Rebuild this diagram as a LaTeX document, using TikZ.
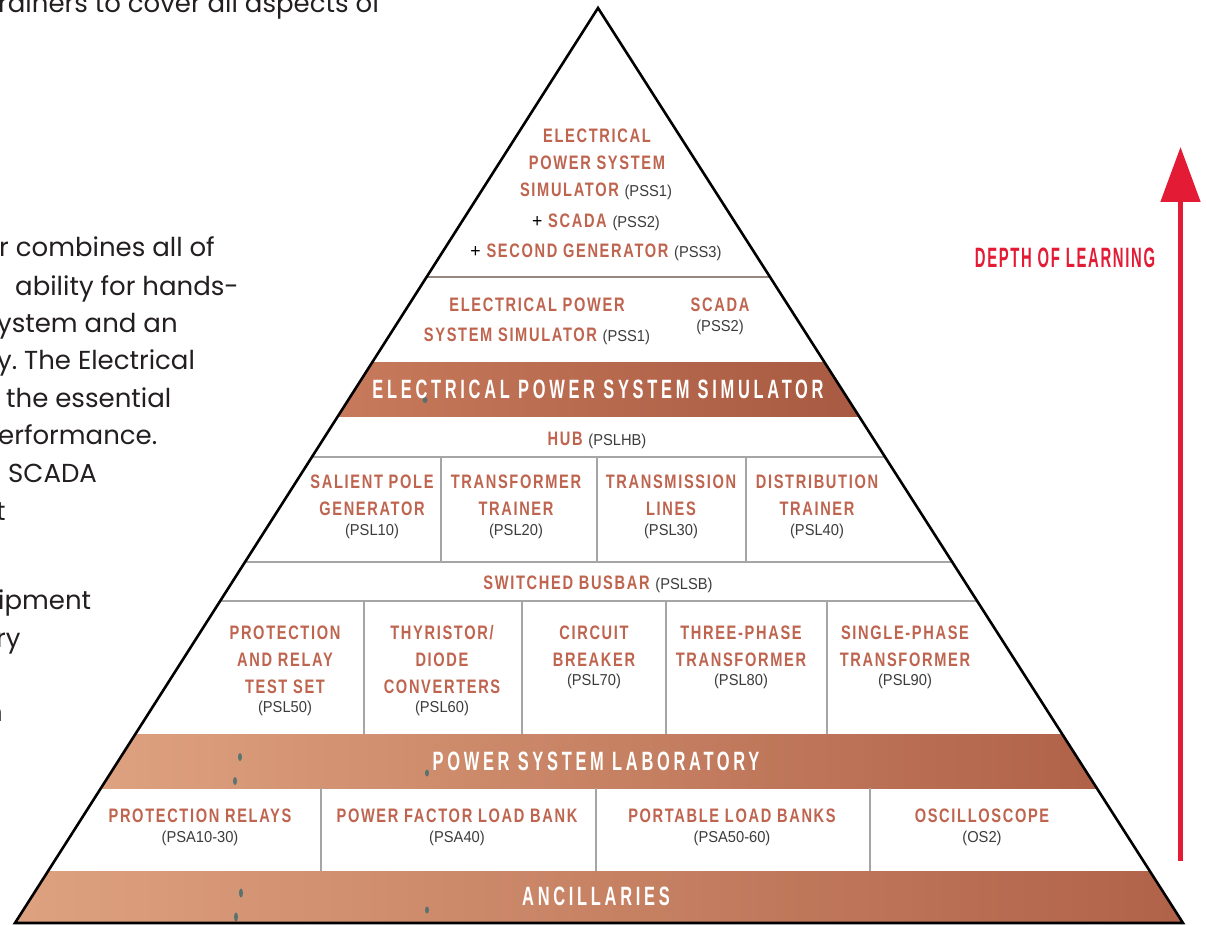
\documentclass[tikz,border=0pt]{standalone}
\usepackage{fontspec}
\setmainfont{Poppins}
\usetikzlibrary{arrows.meta}
\newfontfamily\condfont[FakeStretch=0.75,LetterSpace=8.5]{Liberation Sans}
\newfontfamily\bandfont[FakeStretch=0.62,LetterSpace=14]{Liberation Sans}
\newfontfamily\depthfont[FakeStretch=0.53,LetterSpace=6]{Liberation Sans}
\newfontfamily\codefont[FakeStretch=0.93]{Liberation Sans}
\definecolor{copper}{RGB}{190,100,79}
\definecolor{codegray}{RGB}{60,60,60}
\definecolor{arrowred}{RGB}{227,27,53}
\definecolor{sepgray}{RGB}{165,165,165}
\definecolor{topsep}{RGB}{150,135,130}
\definecolor{parablack}{RGB}{35,31,32}
\definecolor{speckcol}{RGB}{70,110,112}
\definecolor{bandAL}{RGB}{200,122,92}
\definecolor{bandAM}{RGB}{198,116,86}
\definecolor{bandAR}{RGB}{168,90,66}
\definecolor{bandBL}{RGB}{222,162,128}
\definecolor{bandBM}{RGB}{200,120,90}
\definecolor{bandBR}{RGB}{176,98,72}
\newcommand\codetxt[1]{{\codefont\mdseries\fontsize{15.8}{18}\selectfont\color{codegray}#1}}
\newcommand\plustxt{{\codefont\mdseries\fontsize{19}{20}\selectfont\color{black}+}}
\frenchspacing
\begin{document}
\begin{tikzpicture}[x=1pt,y=-1pt,
  ttl/.style={font=\condfont\bfseries\fontsize{19.5}{24}\selectfont, text=copper, inner sep=0, anchor=base},
  codeline/.style={font=\codefont\fontsize{15.8}{18}\selectfont, text=codegray, inner sep=0, anchor=base},
  bandtxt/.style={font=\bandfont\bfseries\fontsize{26.5}{30}\selectfont, text=white, inner sep=0, anchor=center},
  para/.style={font=\fontsize{26}{30}\selectfont, text=parablack, inner sep=0, anchor=base west},
  sepline/.style={draw=sepgray, line width=1.3pt},
  speck/.style={fill=speckcol, opacity=0.85}
]
\useasboundingbox (0,0) rectangle (1207,925);
\fill[white] (0,0) rectangle (1207,925);

% left paragraph fragments
\node[para] (p0) at (-2,12.5) {rainers to cover all aspects of};
\node[para] (p1) at (-1,257) {r combines all of};
\node[para] (p2) at (15,295) {ability for hands-};
\node[para] (p3) at (-3,332) {ystem and an};
\node[para] (p4) at (-3,369) {y. The Electrical};
\node[para] (p5) at (6,407) {the essential};
\node[para] (p6) at (-2,444) {erformance.};
\node[para] (p7) at (8,482) {SCADA};
\node[para] (p8) at (-4,520) {t};
\node[para] (p9) at (-2,609) {ipment};
\node[para] (p10) at (-4,647) {ry};
\node[para,anchor=base east] (p11) at (3,721) {n};

% pyramid
\coordinate (apex) at (598,8);
\coordinate (bl) at (15,923);
\coordinate (br) at (1183,923);
\begin{scope}
\clip (apex) -- (bl) -- (br) -- cycle;
\shade[left color=bandAL, middle color=bandAM, right color=bandAR] (337,362) rectangle (859,416);
\shade[left color=bandBL, middle color=bandBM, right color=bandBR] (95,734) rectangle (1100,788);
\shade[left color=bandBL, middle color=bandBM, right color=bandBR] (10,871) rectangle (1190,925);
\fill[speck] (425,400) ellipse (2.5 and 3);
\fill[speck] (240,757) ellipse (2 and 4);
\fill[speck] (235,781) ellipse (2 and 4);
\fill[speck] (427,773) ellipse (2 and 3.5);
\fill[speck] (241,893) ellipse (2 and 4.5);
\fill[speck] (236,917) ellipse (2 and 4.5);
\fill[speck] (427,910) ellipse (2 and 3.5);
\draw[draw=topsep, line width=1.6pt] (0,277) -- (1207,277);
\draw[sepline] (0,457) -- (1207,457);
\draw[sepline] (0,562) -- (1207,562);
\draw[sepline] (0,601) -- (1207,601);
\end{scope}
% vertical dividers
\draw[sepline] (441,457) -- (441,562);
\draw[sepline] (597,457) -- (597,562);
\draw[sepline] (746,457) -- (746,562);
\draw[sepline] (364,601) -- (364,734);
\draw[sepline] (522,601) -- (522,734);
\draw[sepline] (666,601) -- (666,734);
\draw[sepline] (827,601) -- (827,734);
\draw[sepline] (321,788) -- (321,871);
\draw[sepline] (596,788) -- (596,871);
\draw[sepline] (870,788) -- (870,871);
\draw[black, line width=2.6pt, line join=miter] (apex) -- (bl) -- (br) -- cycle;

% top section
\node[ttl] (t1) at (597,143) {ELECTRICAL};
\node[ttl] (t2) at (597,170) {POWER SYSTEM};
\node[ttl] (t3) at (596,197) {SIMULATOR \codetxt{(PSS1)}};
\node[ttl] (t4) at (596,228) {\plustxt{} SCADA \codetxt{(PSS2)}};
\node[ttl] (t5) at (596,258) {\plustxt{} SECOND GENERATOR \codetxt{(PSS3)}};

% row 2
\node[ttl] (r2a) at (537,311) {ELECTRICAL POWER};
\node[ttl] (r2b) at (537,341) {SYSTEM SIMULATOR \codetxt{(PSS1)}};
\node[ttl] (r2c) at (720,311) {SCADA};
\node[codeline] (r2d) at (720,331) {(PSS2)};

\node[bandtxt] (eps) at (598,389) {ELECTRICAL POWER SYSTEM SIMULATOR};

\node[ttl] (hub) at (597,445) {HUB \codetxt{(PSLHB)}};

% row of four
\node[ttl] (sp1) at (372,488) {SALIENT POLE};
\node[ttl] (sp2) at (372,515) {GENERATOR};
\node[codeline] (sp3) at (372,535) {(PSL10)};
\node[ttl] (tt1) at (516,488) {TRANSFORMER};
\node[ttl] (tt2) at (516,515) {TRAINER};
\node[codeline] (tt3) at (516,535) {(PSL20)};
\node[ttl] (tl1) at (671,488) {TRANSMISSION};
\node[ttl] (tl2) at (671,515) {LINES};
\node[codeline] (tl3) at (671,535) {(PSL30)};
\node[ttl] (dt1) at (817,488) {DISTRIBUTION};
\node[ttl] (dt2) at (817,515) {TRAINER};
\node[codeline] (dt3) at (817,535) {(PSL40)};

\node[ttl] (sb) at (598,589) {SWITCHED BUSBAR \codetxt{(PSLSB)}};

% row of five
\node[ttl] (pr1) at (285,639) {PROTECTION};
\node[ttl] (pr2) at (285,666) {AND RELAY};
\node[ttl] (pr3) at (285,693) {TEST SET};
\node[codeline] (pr4) at (285,712) {(PSL50)};
\node[ttl] (th1) at (442,639) {THYRISTOR/};
\node[ttl] (th2) at (442,666) {DIODE};
\node[ttl] (th3) at (442,693) {CONVERTERS};
\node[codeline] (th4) at (442,712) {(PSL60)};
\node[ttl] (cb1) at (594,639) {CIRCUIT};
\node[ttl] (cb2) at (594,666) {BREAKER};
\node[codeline] (cb3) at (594,685) {(PSL70)};
\node[ttl] (tp1) at (741,639) {THREE-PHASE};
\node[ttl] (tp2) at (741,666) {TRANSFORMER};
\node[codeline] (tp3) at (741,685) {(PSL80)};
\node[ttl] (sg1) at (905,639) {SINGLE-PHASE};
\node[ttl] (sg2) at (905,666) {TRANSFORMER};
\node[codeline] (sg3) at (905,685) {(PSL90)};

\node[bandtxt] (psl) at (596,761) {POWER SYSTEM LABORATORY};

% ancillaries row
\node[ttl] (a1) at (200,822) {PROTECTION RELAYS};
\node[codeline] (a1c) at (200,842) {(PSA10-30)};
\node[ttl] (a2) at (457,822) {POWER FACTOR LOAD BANK};
\node[codeline] (a2c) at (457,842) {(PSA40)};
\node[ttl] (a3) at (732,822) {PORTABLE LOAD BANKS};
\node[codeline] (a3c) at (732,842) {(PSA50-60)};
\node[ttl] (a4) at (982,822) {OSCILLOSCOPE};
\node[codeline] (a4c) at (982,842) {(OS2)};

\node[bandtxt] (anc) at (596,896) {ANCILLARIES};

% depth of learning arrow
\node[font=\depthfont\bfseries\fontsize{28}{30}\selectfont, text=arrowred, inner sep=0] (dol) at (1065,258) {DEPTH OF LEARNING};
\coordinate (arrowbase) at (1180.5,861);
\coordinate (arrowtip) at (1180.5,147);
\draw[arrowred, line width=5pt, -{Triangle[length=55pt,width=39pt]}] (arrowbase) -- (arrowtip);
\end{tikzpicture}
\end{document}
